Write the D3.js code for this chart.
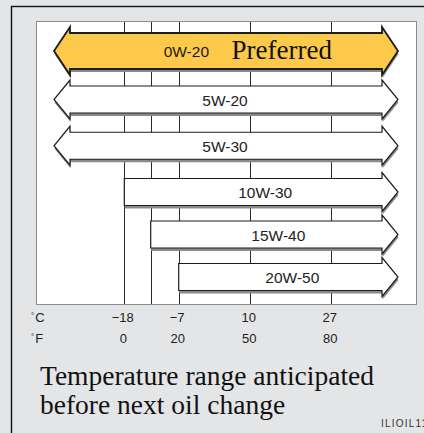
<!DOCTYPE html>
<html>
<head>
<meta charset="utf-8">
<script src="https://cdn.jsdelivr.net/npm/d3@7"></script>
<style>
  html, body { margin: 0; padding: 0; background: #e4e5e7; overflow: hidden; }
  svg { display: block; }
</style>
</head>
<body>
<svg id="chart" width="424" height="433"></svg>
<script>
// Oil viscosity grades and the lowest ambient temperature each one covers (°C).
// null = no lower limit (arrow open to the cold side).
const grades = ["0W-20", "5W-20", "5W-30", "10W-30", "15W-40", "20W-50"];
const minTempC = [null, null, null, -18, -12, -7];
const preferred = [true, false, false, false, false, false];

// Temperature grid lines (°C) and their Fahrenheit equivalents
const gridC = [-18, -12, -7, 10, 27];
const gridF = [0, 10, 20, 50, 80];
const tickC = [-18, -7, 10, 27];
const tickF = [0, 20, 50, 80];

const svg = d3.select("#chart");

// Frame and plot area
const plot = { left: 36, right: 416, top: 21, bottom: 304 };
const inset = 18; // open arrow tips sit this far in from the plot edges

svg.append("rect")
  .attr("x", 11.5).attr("y", 6.5)
  .attr("width", 440).attr("height", 450)
  .attr("fill", "#e4e5e7")
  .attr("stroke", "#111").attr("stroke-width", 1.4);

svg.append("rect")
  .attr("x", plot.left + 0.5).attr("y", plot.top + 0.5)
  .attr("width", plot.right - plot.left).attr("height", plot.bottom - plot.top)
  .attr("fill", "#ffffff")
  .attr("stroke", "#8c8c8c").attr("stroke-width", 1);

// The printed scale is not evenly spaced, so map the grid piecewise.
const x = d3.scaleLinear()
  .domain(gridC)
  .range([124.3, 150.7, 178.7, 250.3, 331.3]);
const xF = d3.scaleLinear()
  .domain(gridF)
  .range(x.range());

// Row centres (preferred row is taller, lower rows sit a little closer)
const rowY = d3.scaleLinear()
  .domain([0, 1, 3, 5])
  .range([51, 99.5, 192, 277]);

// Vertical grid lines
svg.append("g")
  .selectAll("line")
  .data(gridC)
  .join("line")
  .attr("x1", d => Math.round(x(d)) + 0.5)
  .attr("x2", d => Math.round(x(d)) + 0.5)
  .attr("y1", plot.top + 1)
  .attr("y2", plot.bottom)
  .attr("stroke", "#2a2a2a")
  .attr("stroke-width", 1);

// Arrow shape
const line = d3.line();
function arrowPath(x0, x1, cy, h, H, L, openLeft) {
  const pts = [];
  if (openLeft) {
    pts.push([x0 + L, cy + h], [x0 + L, cy + H], [x0, cy], [x0 + L, cy - H], [x0 + L, cy - h]);
  } else {
    pts.push([x0, cy + h], [x0, cy - h]);
  }
  pts.push([x1 - L, cy - h], [x1 - L, cy - H], [x1, cy], [x1 - L, cy + H], [x1 - L, cy + h]);
  return line(pts) + "Z";
}

const rows = grades.map((g, i) => {
  const open = minTempC[i] === null;
  const big = preferred[i];
  return {
    grade: g,
    i,
    open,
    big,
    x0: open ? plot.left + inset : x(minTempC[i]),
    x1: plot.right - inset,
    cy: rowY(i),
    h: big ? 18 : 13.5,
    H: big ? 24 : 19.5,
    L: 16
  };
});

const arrows = svg.append("g");
// drop shadow under each arrow
arrows.selectAll("path.shadow")
  .data(rows)
  .join("path")
  .attr("class", "shadow")
  .attr("d", d => arrowPath(d.x0 + 0.5, d.x1 + 0.5, d.cy + 3, d.h, d.H, d.L, d.open))
  .attr("fill", "#8a8a8a");

arrows.selectAll("path.arrow")
  .data(rows)
  .join("path")
  .attr("class", "arrow")
  .attr("d", d => arrowPath(d.x0, d.x1, d.cy, d.h, d.H, d.L, d.open))
  .attr("fill", d => d.big ? "#fcc94b" : "#ffffff")
  .attr("stroke", "#1c1c1c")
  .attr("stroke-width", d => d.big ? 1.8 : 1.2)
  .attr("stroke-linejoin", "miter");

// Grade labels
const sans = "'Liberation Sans', Arial, Helvetica, sans-serif";
const serif = "'Liberation Serif', 'Times New Roman', Times, serif";

svg.append("g")
  .selectAll("text")
  .data(rows.filter(d => !d.big))
  .join("text")
  .attr("x", d => (d.x0 + d.x1) / 2 + (d.open ? -1 : 4))
  .attr("y", d => d.cy + 6)
  .attr("text-anchor", "middle")
  .attr("font-family", sans)
  .attr("font-size", 15.5)
  .attr("fill", "#222")
  .text(d => d.grade);

rows.filter(d => d.big).forEach(d => {
  const mid = (d.x0 + d.x1) / 2;
  svg.append("text")
    .attr("x", mid - 17)
    .attr("y", d.cy + 5.5)
    .attr("text-anchor", "end")
    .attr("font-family", sans)
    .attr("font-size", 15.5)
    .attr("fill", "#1a1a1a")
    .text(d.grade);
  svg.append("text")
    .attr("x", mid + 5.5)
    .attr("y", d.cy + 7.5)
    .attr("text-anchor", "start")
    .attr("font-family", serif)
    .attr("font-size", 27)
    .attr("fill", "#111")
    .text("Preferred");
});

// Temperature scales
function unitLabel(y, unit) {
  const t = svg.append("text")
    .attr("x", 31).attr("y", y)
    .attr("font-family", sans)
    .attr("fill", "#222");
  t.append("tspan").attr("font-size", 8).attr("dy", -4).text("°");
  t.append("tspan").attr("font-size", 13).attr("dx", 1).attr("dy", 4).text(unit);
}
unitLabel(321.5, "C");
unitLabel(342.5, "F");

svg.append("g")
  .selectAll("text")
  .data(tickC)
  .join("text")
  .attr("x", d => x(d) - 1.5)
  .attr("y", 321.5)
  .attr("text-anchor", "middle")
  .attr("font-family", sans)
  .attr("font-size", 13)
  .attr("fill", "#222")
  .text(d => d < 0 ? "\u2212" + Math.abs(d) : d);

svg.append("g")
  .selectAll("text")
  .data(tickF)
  .join("text")
  .attr("x", d => xF(d) - 1)
  .attr("y", 342.5)
  .attr("text-anchor", "middle")
  .attr("font-family", sans)
  .attr("font-size", 13)
  .attr("fill", "#222")
  .text(d => d);

// Caption
const caption = ["Temperature range anticipated", "before next oil change"];
svg.append("g")
  .selectAll("text")
  .data(caption)
  .join("text")
  .attr("x", 40)
  .attr("y", (d, i) => 385 + i * 29)
  .attr("font-family", serif)
  .attr("font-size", 27.5)
  .attr("fill", "#111")
  .text(d => d);

// Figure code
svg.append("text")
  .attr("x", 381)
  .attr("y", 426.5)
  .attr("font-family", sans)
  .attr("font-size", 10)
  .attr("letter-spacing", 1.2)
  .attr("fill", "#333")
  .text("ILIOIL11");
</script>
</body>
</html>
